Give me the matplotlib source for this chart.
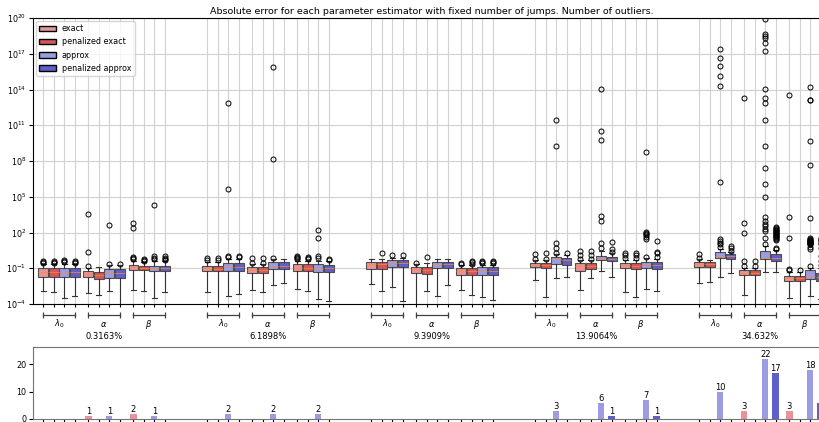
import numpy as np
import matplotlib
matplotlib.use("Agg")
import matplotlib.pyplot as plt
from matplotlib import transforms
from matplotlib.patches import Patch
from matplotlib.ticker import NullLocator

plt.rcParams['font.size'] = 6

percents = ["0.3163%", "6.1898%", "9.3909%", "13.9064%", "34.632%"]
params = [r"$\lambda_0$", r"$\alpha$", r"$\beta$"]
methods = ["exact", "penalized exact", "approx", "penalized approx"]
colors = ["#e8939a", "#d6565d", "#9c9ce2", "#5f5fcc"]

# log10 of the absolute error; one row per (percent, parameter), one column per method
q1_log = [
    [-1.71, -1.71, -1.75, -1.75], [-1.76, -1.93, -1.82, -1.82], [-1.15, -1.17, -1.26, -1.22],
    [-1.23, -1.25, -1.23, -1.23], [-1.42, -1.42, -1.09, -1.09], [-1.23, -1.23, -1.32, -1.32],
    [-1.09, -1.09, -0.92, -0.87], [-1.37, -1.45, -1.00, -1.00], [-1.57, -1.57, -1.57, -1.57],
    [-0.92, -0.95, -0.64, -0.70], [-1.20, -1.09, -0.31, -0.39], [-1.00, -1.09, -1.00, -1.09],
    [-0.92, -0.92, -0.17, -0.25], [-1.59, -1.59, -0.25, -0.37], [-2.07, -2.07, -1.93, -2.04],
]
med_log = [
    [-1.29, -1.29, -1.35, -1.35], [-1.51, -1.57, -1.42, -1.37], [-0.92, -0.95, -0.98, -0.98],
    [-1.00, -1.05, -0.87, -0.90], [-1.15, -1.12, -0.79, -0.79], [-1.00, -1.00, -1.03, -1.02],
    [-0.67, -0.67, -0.56, -0.56], [-1.06, -1.15, -0.67, -0.67], [-1.23, -1.23, -1.20, -1.20],
    [-0.73, -0.75, -0.25, -0.30], [-0.81, -0.81, -0.11, -0.22], [-0.76, -0.81, -0.73, -0.69],
    [-0.64, -0.64, 0.05, 0.03], [-1.37, -1.37, -0.11, -0.11], [-1.84, -1.84, -1.65, -1.75],
]
q3_log = [
    [-1.00, -1.00, -1.00, -1.00], [-1.26, -1.29, -1.09, -1.09], [-0.73, -0.79, -0.81, -0.79],
    [-0.81, -0.85, -0.59, -0.59], [-0.92, -0.87, -0.50, -0.50], [-0.67, -0.67, -0.67, -0.73],
    [-0.45, -0.45, -0.31, -0.31], [-0.87, -0.87, -0.45, -0.45], [-1.00, -1.00, -0.92, -0.92],
    [-0.53, -0.55, -0.03, -0.10], [-0.59, -0.59, 0.05, -0.05], [-0.59, -0.59, -0.45, -0.45],
    [-0.45, -0.45, 0.34, 0.19], [-1.15, -1.15, 0.47, 0.17], [-1.65, -1.65, -1.15, -1.42],
]
whislo_log = [
    [-2.88, -3.02, -3.52, -3.35], [-3.10, -3.27, -2.91, -4.50], [-2.83, -2.93, -3.52, -3.00],
    [-2.97, -4.50, -3.30, -3.19], [-2.83, -2.97, -2.41, -2.26], [-2.77, -2.91, -3.56, -3.72],
    [-2.32, -2.93, -2.60, -3.72], [-4.50, -2.91, -3.33, -2.41], [-2.83, -3.24, -3.38, -3.66],
    [-1.99, -3.38, -1.79, -1.71], [-2.83, -1.84, -1.23, -1.71], [-2.97, -3.44, -2.74, -2.91],
    [-2.21, -2.15, -1.71, -1.42], [-3.27, -4.50, -1.29, -1.29], [-3.47, -4.50, -3.30, -3.60],
]
whishi_log = [
    [-0.65, -0.65, -0.62, -0.62], [-0.95, -0.92, -0.75, -0.75], [-0.40, -0.45, -0.40, -0.40],
    [-0.45, -0.45, -0.25, -0.25], [-0.65, -0.65, -0.25, -0.20], [-0.35, -0.35, -0.35, -0.40],
    [-0.20, -0.20, -0.10, -0.10], [-0.65, -0.60, -0.20, -0.20], [-0.75, -0.75, -0.70, -0.70],
    [-0.30, -0.30, 0.20, 0.15], [-0.30, -0.30, 0.45, 0.25], [-0.30, -0.30, -0.15, -0.20],
    [-0.25, -0.31, 0.65, 0.40], [-0.95, -0.95, 0.90, 0.50], [-1.30, -1.30, -0.95, -1.00],
]
fliers_log = [
    [[-0.55, -0.45, -0.35], [-0.55, -0.45, -0.35], [-0.50, -0.40, -0.30], [-0.55, -0.45, -0.35]],
    [[-0.79, 0.34, 3.53], [], [-0.67, 2.60], [-0.67]],
    [[-0.25, -0.15, -0.05, 2.35, 2.82], [-0.39, -0.30, -0.25], [-0.25, -0.14, 0.03, 4.30],
     [-0.30, -0.20, -0.10, 0.00]],
    [[-0.31, -0.17], [-0.31, -0.17], [-0.08, 0.03, 5.62, 12.89], [-0.08, 0.03]],
    [[-0.59, -0.17], [-0.59, -0.17], [-0.11, 8.19, 15.88], []],
    [[-0.25, -0.15, -0.05, 0.00], [-0.25, -0.15, -0.05], [-0.14, 0.00, 1.56, 2.21], [-0.31, -0.22]],
    [[], [0.25], [0.11], [0.08]],
    [[-0.56], [-0.03], [], []],
    [[-0.64, -0.55], [-0.62, -0.50, -0.40], [-0.60, -0.50, -0.40], [-0.60, -0.50, -0.40]],
    [[-0.20, 0.20], [-0.25, 0.25], [0.30, 0.70, 1.10, 9.28, 11.44], [0.28]],
    [[-0.25, 0.11, 0.47], [-0.22, 0.11, 0.47], [0.72, 1.09, 2.99, 3.41, 9.73, 10.51, 14.04],
     [0.38, 0.58, 1.23]],
    [[-0.17, 0.11, 0.28], [-0.17, 0.11, 0.28],
     [-0.03, 1.45, 1.60, 1.75, 1.90, 2.00, 2.07, 8.73], [-0.08, 0.25, 0.38, 1.28]],
    [[-0.17, 0.17], [],
     [0.81, 1.03, 1.15, 1.30, 1.45, 6.26, 14.29, 15.15, 16.00, 16.66, 17.42], [0.45, 0.67, 0.87]],
    [[-0.81, -0.39, 1.98, 2.77, 13.26], [-0.81, -0.39],
     [1.03, 1.50, 2.12, 2.30, 2.57, 2.71, 2.96, 3.32, 5.00, 6.07, 7.44, 9.26, 11.41,
      12.86, 13.31, 14.04, 17.25, 17.92, 18.34, 18.48, 18.65, 19.90],
     [0.58, 0.67, 1.37, 1.45, 1.52, 1.60, 1.67, 1.74, 1.80, 1.86, 1.92, 1.98, 2.04, 2.10,
      2.17, 2.24, 2.31, 2.40, 2.49]],
    [[-1.15, -1.04, 1.51, 3.32, 13.56], [-1.15],
     [-0.81, 0.60, 0.80, 1.02, 1.06, 1.10, 1.14, 1.18, 1.22, 1.26, 1.30, 1.34, 1.40, 1.45,
      1.51, 3.19, 7.69, 9.65, 13.10, 13.15, 14.18],
     [-0.73, -0.40, 0.00, 0.70, 1.05, 1.15, 1.25, 1.35, 1.45, 1.50]],
]
# number of outliers (error > 10) per box, as shown in the lower panel
outlier_counts = [
    [0, 0, 0, 0], [1, 0, 1, 0], [2, 0, 1, 0],
    [0, 0, 2, 0], [0, 0, 2, 0], [0, 0, 2, 0],
    [0, 0, 0, 0], [0, 0, 0, 0], [0, 0, 0, 0],
    [0, 0, 3, 0], [0, 0, 6, 1], [0, 0, 7, 1],
    [0, 0, 10, 0], [3, 0, 22, 17], [3, 0, 18, 6],
]

GROUP_STEP = 15.77
PARAM_STEP = 4.33

stats, positions, box_colors, counts = [], [], [], []
for r in range(len(q1_log)):
    g, p = divmod(r, 3)
    for m in range(4):
        stats.append(dict(
            med=10 ** med_log[r][m], q1=10 ** q1_log[r][m], q3=10 ** q3_log[r][m],
            whislo=10 ** whislo_log[r][m], whishi=10 ** whishi_log[r][m],
            fliers=10 ** np.array(fliers_log[r][m], dtype=float)))
        positions.append(g * GROUP_STEP + p * PARAM_STEP + m)
        box_colors.append(colors[m])
        counts.append(outlier_counts[r][m])

fig = plt.figure(figsize=(8.2, 4.22), dpi=100)
left, width = 33 / 820, 798 / 820
ax = fig.add_axes([left, 118 / 422, width, 286 / 422])
ax2 = fig.add_axes([left, 3 / 422, width, 72 / 422])

edge = "0.3"
bp = ax.bxp(stats, positions=positions, widths=0.95, patch_artist=True, manage_ticks=False,
            boxprops=dict(edgecolor=edge, linewidth=0.8),
            whiskerprops=dict(color="0.2", linewidth=0.8),
            capprops=dict(color="0.2", linewidth=0.8),
            medianprops=dict(color="#ff8c2a", linewidth=0.5),
            flierprops=dict(marker="o", markersize=3.6, markerfacecolor="none",
                            markeredgecolor="black", markeredgewidth=0.7))
for box, c in zip(bp["boxes"], box_colors):
    box.set_facecolor(c)

xmin, xmax = -1, positions[-1] + 1
ax.set_yscale("log")
ax.set_ylim(1e-4, 1e20)
ax.set_yticks([10.0 ** k for k in range(-4, 21, 3)])
ax.yaxis.set_minor_locator(NullLocator())
ax.set_xlim(xmin, xmax)
ax.set_xticks(positions)
ax.set_xticklabels([])
ax.tick_params(axis="x", length=2)
ax.tick_params(axis="y", length=3, pad=2, labelsize=5.8)
ax.grid(True, color="0.82", linewidth=0.8)
ax.set_axisbelow(True)
ax.set_title("Absolute error for each parameter estimator with fixed number of jumps. Number of outliers.",
             fontsize=6.8, pad=3)

trans = transforms.blended_transform_factory(ax.transData, ax.transAxes)
for g, pct in enumerate(percents):
    for p, name in enumerate(params):
        x0 = g * GROUP_STEP + p * PARAM_STEP
        x1 = x0 + 3
        ax.plot([x0, x1], [-0.0385, -0.0385], transform=trans, clip_on=False,
                color="0.25", lw=0.9, marker="|", ms=4, mew=0.9)
        ax.text((x0 + x1) / 2, -0.07, name, transform=trans, ha="center", va="center")
    xc = g * GROUP_STEP + PARAM_STEP + 1.5
    ax.text(xc, -0.112, pct, transform=trans, ha="center", va="center")

handles = [Patch(facecolor=c, edgecolor="black", label=m) for c, m in zip(colors, methods)]
ax.legend(handles=handles, loc="upper left", fontsize=5.8, borderaxespad=0.4)

bars = ax2.bar(positions, counts, width=0.6, color=box_colors)
ax2.bar_label(bars, labels=[str(c) if c else "" for c in counts], padding=0, fontsize=6)
ax2.set_xlim(xmin, xmax)
ax2.set_ylim(0, max(counts) * 1.2)
ax2.set_yticks([0, 10, 20])
ax2.set_xticks(positions)
ax2.set_xticklabels([])
ax2.tick_params(axis="x", length=2)
ax2.tick_params(axis="y", length=3, pad=2, labelsize=5.8)
for s in ax2.spines.values():
    s.set_color("0.45")

fig.savefig("out.png", dpi=100)
